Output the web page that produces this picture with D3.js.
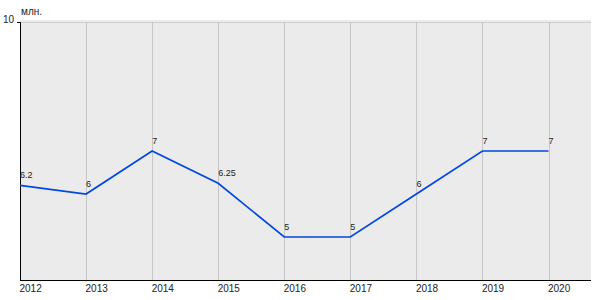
<!DOCTYPE html>
<html lang="ru">
<head>
<meta charset="UTF-8">
<title>Line chart</title>
<script src="https://d3js.org/d3.v7.min.js"></script>
<style>
    html, body { margin: 0; background: #fff; }
    svg { display: block; font-family: Arial, "Liberation Sans", sans-serif; }
    .year { font-size: 10px; fill: #222; }
    .val { font-size: 9px; fill: #222; }
</style>
</head>
<body>
<svg width="600" height="300"></svg>
<script>
    // Data
    const years = [2012, 2013, 2014, 2015, 2016, 2017, 2018, 2019, 2020];
    const values = [6.2, 6, 7, 6.25, 5, 5, 6, 7, 7];
    const valueLabels = ["6.2", "6", "7", "6.25", "5", "5", "6", "7", "7"];
    const unit = "млн.";

    const svg = d3.select("svg");
    const plotLeft = 20, plotRight = 591, plotTop = 22, plotBottom = 280;

    const x = d3.scaleLinear().domain([2012, 2020]).range([plotLeft, 548.5]);
    const y = d3.scaleLinear().domain([4, 10]).range([plotBottom, plotTop]);

    // plot background
    svg.append("rect")
        .attr("x", plotLeft).attr("y", plotTop - 2)
        .attr("width", plotRight - plotLeft).attr("height", plotBottom - plotTop + 2)
        .attr("fill", "#ebebeb");

    // top grid line at max
    svg.append("line")
        .attr("x1", plotLeft).attr("x2", plotRight)
        .attr("y1", y(10) + 0.5).attr("y2", y(10) + 0.5)
        .attr("stroke", "#cfcfcf");

    // vertical grid lines
    svg.append("g").selectAll("line")
        .data(years.slice(1))
        .enter().append("line")
        .attr("x1", d => Math.round(x(d)) + 0.5)
        .attr("x2", d => Math.round(x(d)) + 0.5)
        .attr("y1", plotTop).attr("y2", plotBottom)
        .attr("stroke", "#c6c6c6");

    // axes
    svg.append("line")
        .attr("x1", plotLeft + 0.5).attr("x2", plotLeft + 0.5)
        .attr("y1", plotTop).attr("y2", plotBottom + 1)
        .attr("stroke", "#000");
    svg.append("line")
        .attr("x1", plotLeft).attr("x2", plotRight)
        .attr("y1", plotBottom + 0.5).attr("y2", plotBottom + 0.5)
        .attr("stroke", "#000");
    svg.append("line")
        .attr("x1", plotLeft - 3).attr("x2", plotLeft)
        .attr("y1", y(10) + 0.5).attr("y2", y(10) + 0.5)
        .attr("stroke", "#000");

    svg.append("text").attr("class", "year")
        .attr("x", 14).attr("y", y(10) + 1)
        .attr("text-anchor", "end").text("10");
    svg.append("text").attr("class", "year")
        .attr("x", 21).attr("y", 15).text(unit);

    // year labels
    svg.append("g").selectAll("text")
        .data(years)
        .enter().append("text")
        .attr("class", "year")
        .attr("x", d => x(d) - 0.5)
        .attr("y", 292)
        .text(d => d);

    // line
    const line = d3.line()
        .x((d, i) => x(years[i]))
        .y(d => y(d));
    svg.append("path")
        .datum(values)
        .attr("d", line)
        .attr("fill", "none")
        .attr("stroke", "#0048e0")
        .attr("stroke-width", 1.7);

    // value labels
    svg.append("g").selectAll("text")
        .data(values)
        .enter().append("text")
        .attr("class", "val")
        .attr("x", (d, i) => x(years[i]))
        .attr("y", d => y(d) - 7)
        .text((d, i) => valueLabels[i]);
</script>
</body>
</html>
